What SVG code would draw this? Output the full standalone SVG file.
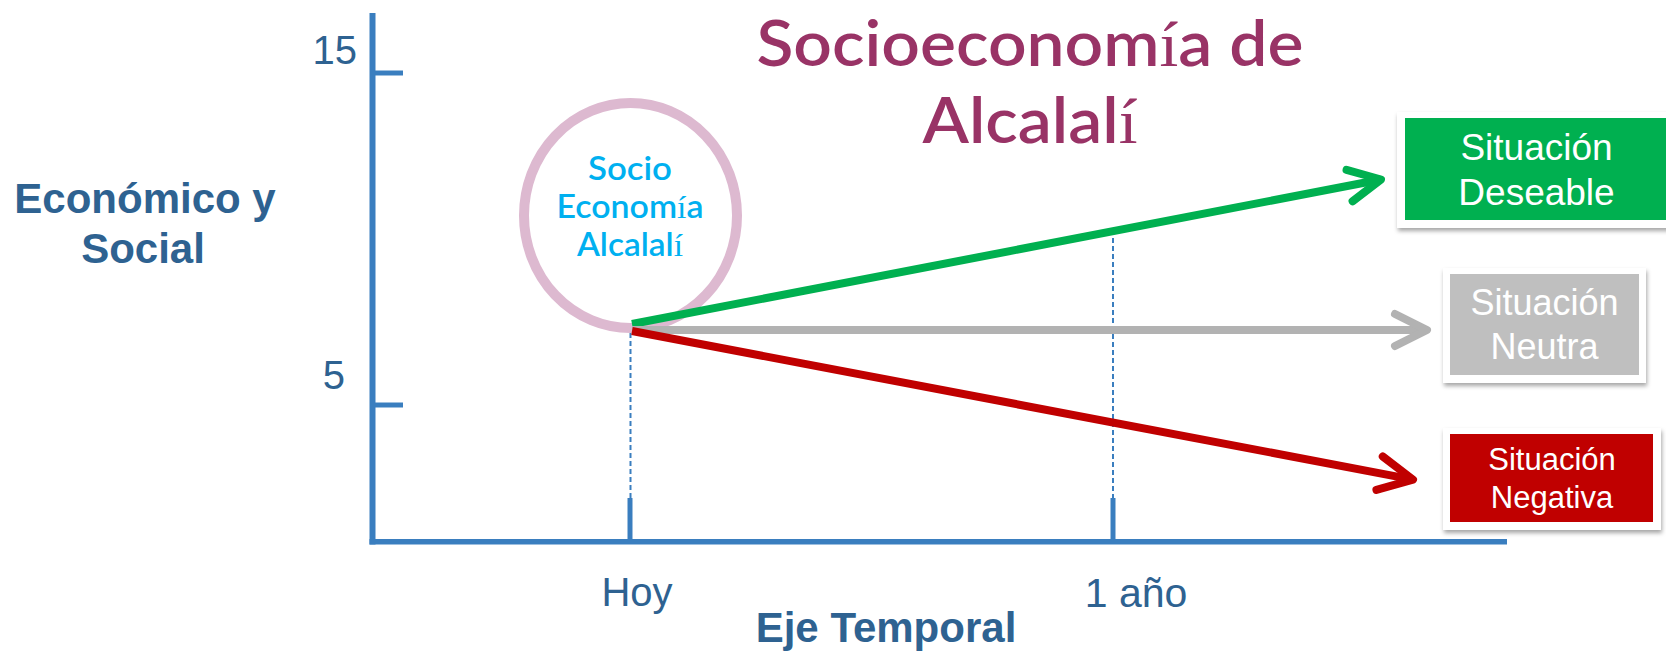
<svg xmlns="http://www.w3.org/2000/svg" width="1666" height="651" viewBox="0 0 1666 651">
<style>
.ax{stroke:#3A7EBF;fill:none}
.dash{stroke:#3A7EBF;stroke-width:2;stroke-dasharray:5 3;fill:none}
.lbl{font-family:"Liberation Sans",Arial,sans-serif;fill:#2E6291}
.bold{font-weight:bold}
.title{font-family:Lato,"Open Sans",sans-serif;fill:#993366;font-size:64px;font-weight:600}
.circ{font-family:Lato,"Open Sans",sans-serif;fill:#00B0F0;font-size:32px;font-weight:600}
.srf{font-family:"Liberation Serif",serif;font-weight:normal}
.box{font-family:"Liberation Sans",Arial,sans-serif;fill:#FFFFFF}
.frame{fill:#FFFFFF;filter:url(#sh)}
.arr{fill:none;stroke-width:8}
</style>
<defs>
<filter id="sh" x="-10%" y="-10%" width="120%" height="130%">
<feDropShadow dx="1" dy="3" stdDeviation="2" flood-color="#000" flood-opacity="0.35"/>
</filter>
<marker id="mg" markerUnits="userSpaceOnUse" orient="auto" markerWidth="60" markerHeight="60" refX="0" refY="0" viewBox="-40 -30 60 60" overflow="visible">
<path d="M-32,-16 L0,0 L-32,16" fill="none" stroke="#00B050" stroke-width="8" stroke-linecap="round" stroke-linejoin="round"/>
</marker>
<marker id="mn" markerUnits="userSpaceOnUse" orient="auto" markerWidth="60" markerHeight="60" refX="0" refY="0" viewBox="-40 -30 60 60" overflow="visible">
<path d="M-32,-16 L0,0 L-32,16" fill="none" stroke="#B2B2B2" stroke-width="8" stroke-linecap="round" stroke-linejoin="round"/>
</marker>
<marker id="mr" markerUnits="userSpaceOnUse" orient="auto" markerWidth="60" markerHeight="60" refX="0" refY="0" viewBox="-40 -30 60 60" overflow="visible">
<path d="M-34,-17 L0,0 L-34,17" fill="none" stroke="#C00000" stroke-width="8" stroke-linecap="round" stroke-linejoin="round"/>
</marker>
</defs>

<g id="axes">
<line class="ax" x1="372.5" y1="13" x2="372.5" y2="544.5" stroke-width="6"/>
<line class="ax" x1="369.5" y1="541.7" x2="1507" y2="541.7" stroke-width="5.5"/>
<line class="ax" x1="372" y1="73" x2="403" y2="73" stroke-width="5"/>
<line class="ax" x1="372" y1="405" x2="403" y2="405" stroke-width="5"/>
<line class="ax" x1="630" y1="498" x2="630" y2="541" stroke-width="5"/>
<line class="ax" x1="1113" y1="498" x2="1113" y2="541" stroke-width="5"/>
<line class="dash" x1="630.5" y1="333" x2="630.5" y2="498"/>
<line class="dash" x1="1113" y1="238" x2="1113" y2="498"/>
<text class="lbl" x="357" y="64" font-size="40" text-anchor="end">15</text>
<text class="lbl" x="345" y="389" font-size="40" text-anchor="end">5</text>
<text class="lbl" x="637" y="606" font-size="40" text-anchor="middle">Hoy</text>
<text class="lbl" x="1136" y="607" font-size="41" text-anchor="middle">1 año</text>
<text class="lbl bold" x="886" y="642" font-size="42" text-anchor="middle">Eje Temporal</text>
<text class="lbl bold" x="145" y="213" font-size="42" text-anchor="middle">Económico y</text>
<text class="lbl bold" x="143" y="263" font-size="42" text-anchor="middle">Social</text>
</g>

<g id="title">
<text class="title" x="1030" y="66" text-anchor="middle" textLength="547" lengthAdjust="spacingAndGlyphs">Socioeconom<tspan class="srf">í</tspan>a de</text>
<text class="title" x="1030" y="143" text-anchor="middle" textLength="215" lengthAdjust="spacingAndGlyphs">Alcalal<tspan class="srf">í</tspan></text>
</g>

<g id="socioeconomia">
<ellipse cx="630.5" cy="215.5" rx="106.5" ry="112.5" fill="none" stroke="#DDB9D0" stroke-width="10"/>
<text class="circ" x="630" y="180" text-anchor="middle" textLength="84" lengthAdjust="spacingAndGlyphs">Socio</text>
<text class="circ" x="630" y="218" text-anchor="middle" textLength="147" lengthAdjust="spacingAndGlyphs">Econom<tspan class="srf">í</tspan>a</text>
<text class="circ" x="630" y="256" text-anchor="middle" textLength="106" lengthAdjust="spacingAndGlyphs">Alcalal<tspan class="srf">í</tspan></text>
</g>

<g id="connectors">
<line class="arr" x1="632" y1="324" x2="1381" y2="179.5" stroke="#00B050" marker-end="url(#mg)"/>
<line class="arr" x1="632" y1="330" x2="1427" y2="330" stroke="#B2B2B2" marker-end="url(#mn)"/>
<line class="arr" x1="632" y1="331" x2="1413" y2="479.6" stroke="#C00000" marker-end="url(#mr)"/>
</g>

<g id="deseable">
<rect class="frame" x="1397" y="112" width="280" height="116"/>
<rect x="1405" y="118" width="270" height="102" fill="#00B050"/>
<text class="box" x="1536.5" y="160" font-size="37" text-anchor="middle">Situación</text>
<text class="box" x="1536.5" y="205" font-size="37" text-anchor="middle">Deseable</text>
</g>

<g id="neutra">
<rect class="frame" x="1443" y="268" width="203" height="115"/>
<rect x="1450" y="274" width="189" height="101" fill="#BFBFBF"/>
<text class="box" x="1544.5" y="315" font-size="36" text-anchor="middle">Situación</text>
<text class="box" x="1544.5" y="359" font-size="36" text-anchor="middle">Neutra</text>
</g>

<g id="negativa">
<rect class="frame" x="1443" y="428" width="218" height="102"/>
<rect x="1450" y="434" width="203" height="88" fill="#C00000"/>
<text class="box" x="1552" y="470" font-size="31" text-anchor="middle">Situación</text>
<text class="box" x="1552" y="508" font-size="31" text-anchor="middle">Negativa</text>
</g>
</svg>
